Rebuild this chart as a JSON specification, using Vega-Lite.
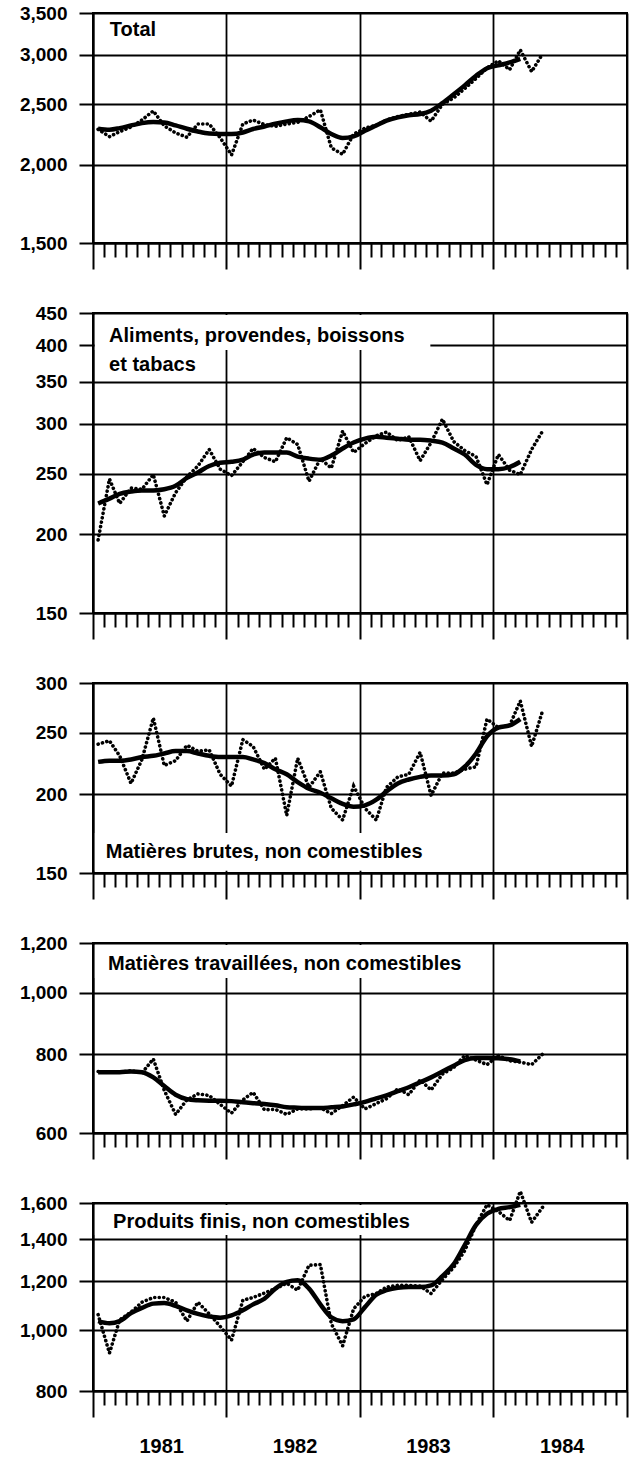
{
  "$schema": "https://vega.github.io/schema/vega-lite/v6.json",
  "padding": {"left": 18, "top": 3, "right": 2, "bottom": 2},
  "background": "white",
  "bounds": "flush",
  "spacing": 70,
  "config": {
    "view": {"stroke": "black", "strokeWidth": 2},
    "axis": {"labelFont": "Liberation Sans", "labelFontWeight": "bold", "labelColor": "black", "domainColor": "black", "tickColor": "black", "gridColor": "black"},
    "text": {"font": "Liberation Sans", "fontWeight": "bold", "fontSize": 20, "color": "black", "align": "left", "baseline": "top"}
  },
  "datasets": {
    "series": [
      {"date": "1981-01-15", "total": 2280, "total_t": 2285, "food": 196, "food_t": 224, "crude": 240, "crude_t": 225, "fab": 751, "fab_t": 749, "fin": 1060, "fin_t": 1035},
      {"date": "1981-02-15", "total": 2220, "total_t": 2277, "food": 245, "food_t": 228, "crude": 243, "crude_t": 226, "fab": 749, "fab_t": 749, "fin": 920, "fin_t": 1027},
      {"date": "1981-03-15", "total": 2260, "total_t": 2290, "food": 224, "food_t": 232, "crude": 230, "crude_t": 226, "fab": 749, "fab_t": 749, "fin": 1040, "fin_t": 1035},
      {"date": "1981-04-15", "total": 2300, "total_t": 2313, "food": 237, "food_t": 234, "crude": 208, "crude_t": 227, "fab": 753, "fab_t": 751, "fin": 1070, "fin_t": 1066},
      {"date": "1981-05-15", "total": 2360, "total_t": 2333, "food": 236, "food_t": 235, "crude": 227, "crude_t": 229, "fab": 747, "fab_t": 749, "fin": 1110, "fin_t": 1087},
      {"date": "1981-06-15", "total": 2440, "total_t": 2342, "food": 249, "food_t": 235, "crude": 264, "crude_t": 230, "fab": 786, "fab_t": 735, "fin": 1129, "fin_t": 1104},
      {"date": "1981-07-15", "total": 2310, "total_t": 2339, "food": 214, "food_t": 236, "crude": 222, "crude_t": 232, "fab": 701, "fab_t": 712, "fin": 1129, "fin_t": 1107},
      {"date": "1981-08-15", "total": 2250, "total_t": 2313, "food": 233, "food_t": 239, "crude": 226, "crude_t": 234, "fab": 642, "fab_t": 690, "fin": 1110, "fin_t": 1095},
      {"date": "1981-09-15", "total": 2215, "total_t": 2285, "food": 247, "food_t": 246, "crude": 239, "crude_t": 234, "fab": 677, "fab_t": 679, "fin": 1035, "fin_t": 1077},
      {"date": "1981-10-15", "total": 2325, "total_t": 2262, "food": 257, "food_t": 251, "crude": 234, "crude_t": 232, "fab": 692, "fab_t": 676, "fin": 1110, "fin_t": 1063},
      {"date": "1981-11-15", "total": 2325, "total_t": 2245, "food": 273, "food_t": 257, "crude": 235, "crude_t": 230, "fab": 688, "fab_t": 675, "fin": 1063, "fin_t": 1053},
      {"date": "1981-12-15", "total": 2210, "total_t": 2241, "food": 254, "food_t": 260, "crude": 215, "crude_t": 229, "fab": 666, "fab_t": 675, "fin": 1015, "fin_t": 1048},
      {"date": "1982-01-15", "total": 2075, "total_t": 2241, "food": 248, "food_t": 261, "crude": 206, "crude_t": 229, "fab": 645, "fab_t": 674, "fin": 965, "fin_t": 1057},
      {"date": "1982-02-15", "total": 2325, "total_t": 2254, "food": 261, "food_t": 263, "crude": 244, "crude_t": 229, "fab": 677, "fab_t": 671, "fin": 1118, "fin_t": 1077},
      {"date": "1982-03-15", "total": 2360, "total_t": 2283, "food": 274, "food_t": 268, "crude": 238, "crude_t": 227, "fab": 696, "fab_t": 669, "fin": 1129, "fin_t": 1101},
      {"date": "1982-04-15", "total": 2320, "total_t": 2304, "food": 265, "food_t": 270, "crude": 219, "crude_t": 224, "fab": 653, "fab_t": 667, "fin": 1148, "fin_t": 1124},
      {"date": "1982-05-15", "total": 2305, "total_t": 2328, "food": 261, "food_t": 270, "crude": 228, "crude_t": 219, "fab": 654, "fab_t": 664, "fin": 1167, "fin_t": 1167},
      {"date": "1982-06-15", "total": 2325, "total_t": 2348, "food": 285, "food_t": 270, "crude": 185, "crude_t": 215, "fab": 642, "fab_t": 659, "fin": 1190, "fin_t": 1196},
      {"date": "1982-07-15", "total": 2340, "total_t": 2359, "food": 278, "food_t": 266, "crude": 228, "crude_t": 209, "fab": 655, "fab_t": 658, "fin": 1160, "fin_t": 1203},
      {"date": "1982-08-15", "total": 2390, "total_t": 2348, "food": 243, "food_t": 264, "crude": 205, "crude_t": 204, "fab": 655, "fab_t": 657, "fin": 1272, "fin_t": 1167},
      {"date": "1982-09-15", "total": 2450, "total_t": 2297, "food": 264, "food_t": 263, "crude": 217, "crude_t": 201, "fab": 658, "fab_t": 657, "fin": 1275, "fin_t": 1101},
      {"date": "1982-10-15", "total": 2130, "total_t": 2241, "food": 255, "food_t": 267, "crude": 190, "crude_t": 197, "fab": 644, "fab_t": 659, "fin": 1025, "fin_t": 1050},
      {"date": "1982-11-15", "total": 2080, "total_t": 2208, "food": 292, "food_t": 274, "crude": 182, "crude_t": 193, "fab": 663, "fab_t": 661, "fin": 945, "fin_t": 1035},
      {"date": "1982-12-15", "total": 2240, "total_t": 2221, "food": 270, "food_t": 280, "crude": 206, "crude_t": 191, "fab": 684, "fab_t": 666, "fin": 1083, "fin_t": 1042},
      {"date": "1983-01-15", "total": 2290, "total_t": 2269, "food": 279, "food_t": 284, "crude": 190, "crude_t": 192, "fab": 655, "fab_t": 672, "fin": 1134, "fin_t": 1090},
      {"date": "1983-02-15", "total": 2315, "total_t": 2313, "food": 287, "food_t": 286, "crude": 182, "crude_t": 196, "fab": 668, "fab_t": 681, "fin": 1146, "fin_t": 1141},
      {"date": "1983-03-15", "total": 2360, "total_t": 2354, "food": 291, "food_t": 285, "crude": 205, "crude_t": 202, "fab": 680, "fab_t": 688, "fin": 1174, "fin_t": 1160},
      {"date": "1983-04-15", "total": 2390, "total_t": 2383, "food": 282, "food_t": 284, "crude": 213, "crude_t": 208, "fab": 705, "fab_t": 699, "fin": 1181, "fin_t": 1171},
      {"date": "1983-05-15", "total": 2410, "total_t": 2402, "food": 286, "food_t": 283, "crude": 215, "crude_t": 211, "fab": 690, "fab_t": 709, "fin": 1181, "fin_t": 1174},
      {"date": "1983-06-15", "total": 2430, "total_t": 2412, "food": 262, "food_t": 283, "crude": 233, "crude_t": 213, "fab": 728, "fab_t": 722, "fin": 1178, "fin_t": 1174},
      {"date": "1983-07-15", "total": 2350, "total_t": 2442, "food": 280, "food_t": 282, "crude": 199, "crude_t": 214, "fab": 702, "fab_t": 735, "fin": 1146, "fin_t": 1181},
      {"date": "1983-08-15", "total": 2500, "total_t": 2511, "food": 305, "food_t": 280, "crude": 216, "crude_t": 214, "fab": 744, "fab_t": 751, "fin": 1206, "fin_t": 1222},
      {"date": "1983-09-15", "total": 2560, "total_t": 2595, "food": 281, "food_t": 274, "crude": 216, "crude_t": 215, "fab": 762, "fab_t": 767, "fin": 1262, "fin_t": 1277},
      {"date": "1983-10-15", "total": 2650, "total_t": 2681, "food": 272, "food_t": 268, "crude": 219, "crude_t": 221, "fab": 796, "fab_t": 783, "fin": 1342, "fin_t": 1370},
      {"date": "1983-11-15", "total": 2750, "total_t": 2777, "food": 266, "food_t": 258, "crude": 221, "crude_t": 232, "fab": 783, "fab_t": 789, "fin": 1476, "fin_t": 1476},
      {"date": "1983-12-15", "total": 2860, "total_t": 2856, "food": 240, "food_t": 254, "crude": 263, "crude_t": 247, "fab": 770, "fab_t": 789, "fin": 1590, "fin_t": 1538},
      {"date": "1984-01-15", "total": 2935, "total_t": 2886, "food": 268, "food_t": 254, "crude": 255, "crude_t": 255, "fab": 796, "fab_t": 788, "fin": 1551, "fin_t": 1565},
      {"date": "1984-02-15", "total": 2840, "total_t": 2917, "food": 253, "food_t": 256, "crude": 257, "crude_t": 257, "fab": 781, "fab_t": 785, "fin": 1500, "fin_t": 1576},
      {"date": "1984-03-15", "total": 3055, "total_t": 2955, "food": 249, "food_t": 261, "crude": 281, "crude_t": 263, "fab": 777, "fab_t": 779, "fin": 1670, "fin_t": 1590},
      {"date": "1984-04-15", "total": 2820, "total_t": null, "food": 273, "food_t": null, "crude": 238, "crude_t": null, "fab": 770, "fab_t": null, "fin": 1490, "fin_t": null},
      {"date": "1984-05-15", "total": 3010, "total_t": null, "food": 292, "food_t": null, "crude": 271, "crude_t": null, "fab": 800, "fab_t": null, "fin": 1575, "fin_t": null}
    ]
  },
  "vconcat": [
    {
      "width": 534, "height": 230,
      "layer": [
        {
          "data": {"name": "series"},
          "mark": {"type": "line", "color": "black", "strokeWidth": 3.6, "strokeDash": [0.1, 4.4], "strokeCap": "round"},
          "encoding": {
            "x": {"field": "date", "type": "temporal", "scale": {"type": "utc", "domain": [{"year": 1981, "month": 1, "date": 1, "utc": true}, {"year": 1985, "month": 1, "date": 1, "utc": true}]},
              "axis": {"title": null, "tickCount": {"interval": "month", "step": 1}, "tickSize": {"condition": {"test": "utcmonth(datum.value) === 0", "value": 26}, "value": 14}, "tickWidth": 2, "grid": true, "gridWidth": 1.8, "gridOpacity": {"condition": {"test": "utcmonth(datum.value) === 0", "value": 1}, "value": 0}, "domainWidth": 2, "labels": false}},
            "y": {"field": "total", "type": "quantitative", "scale": {"type": "log", "domain": [1500, 3500], "nice": false, "zero": false},
              "axis": {"title": null, "values": [1500, 2000, 2500, 3000, 3500], "format": ",", "tickSize": 14, "tickWidth": 2, "labelPadding": 12, "labelFontSize": 19, "grid": true, "gridWidth": 1.8, "domainWidth": 2, "labelOverlap": false, "labelFlush": false}}
          }
        },
        {
          "data": {"name": "series"},
          "mark": {"type": "line", "color": "black", "strokeWidth": 4.5, "interpolate": "monotone"},
          "encoding": {
            "x": {"field": "date", "type": "temporal", "scale": {"type": "utc", "domain": [{"year": 1981, "month": 1, "date": 1, "utc": true}, {"year": 1985, "month": 1, "date": 1, "utc": true}]}},
            "y": {"field": "total_t", "type": "quantitative", "scale": {"type": "log", "domain": [1500, 3500], "nice": false, "zero": false}}
          }
        },
        {
          "data": {"values": [{}]},
          "mark": {"type": "text"},
          "encoding": {
            "x": {"datum": {"year": 1981, "month": 2, "date": 16, "utc": true}, "type": "temporal", "scale": {"type": "utc", "domain": [{"year": 1981, "month": 1, "date": 1, "utc": true}, {"year": 1985, "month": 1, "date": 1, "utc": true}]}},
            "y": {"datum": 3410, "type": "quantitative", "scale": {"type": "log", "domain": [1500, 3500], "nice": false, "zero": false}},
            "text": {"value": "Total"}
          }
        }
      ]
    },
    {
      "width": 534, "height": 300,
      "layer": [
        {
          "data": {"values": [{}]},
          "mark": {"type": "rect", "color": "white"},
          "encoding": {
            "x": {"datum": {"year": 1981, "month": 1, "date": 6, "utc": true}, "type": "temporal", "scale": {"type": "utc", "domain": [{"year": 1981, "month": 1, "date": 1, "utc": true}, {"year": 1985, "month": 1, "date": 1, "utc": true}]},
              "axis": {"title": null, "tickCount": {"interval": "month", "step": 1}, "tickSize": {"condition": {"test": "utcmonth(datum.value) === 0", "value": 26}, "value": 14}, "tickWidth": 2, "grid": true, "gridWidth": 1.8, "gridOpacity": {"condition": {"test": "utcmonth(datum.value) === 0", "value": 1}, "value": 0}, "domainWidth": 2, "labels": false}},
            "x2": {"datum": {"year": 1983, "month": 7, "date": 13, "utc": true}},
            "y": {"datum": 446.7, "type": "quantitative", "scale": {"type": "log", "domain": [150, 450], "nice": false, "zero": false},
              "axis": {"title": null, "values": [150, 200, 250, 300, 350, 400, 450], "format": ",", "tickSize": 14, "tickWidth": 2, "labelPadding": 12, "labelFontSize": 19, "grid": true, "gridWidth": 1.8, "domainWidth": 2, "labelOverlap": false, "labelFlush": false}},
            "y2": {"datum": 393}
          }
        },
        {
          "data": {"name": "series"},
          "mark": {"type": "line", "color": "black", "strokeWidth": 3.6, "strokeDash": [0.1, 4.4], "strokeCap": "round"},
          "encoding": {
            "x": {"field": "date", "type": "temporal", "scale": {"type": "utc", "domain": [{"year": 1981, "month": 1, "date": 1, "utc": true}, {"year": 1985, "month": 1, "date": 1, "utc": true}]}},
            "y": {"field": "food", "type": "quantitative", "scale": {"type": "log", "domain": [150, 450], "nice": false, "zero": false}}
          }
        },
        {
          "data": {"name": "series"},
          "mark": {"type": "line", "color": "black", "strokeWidth": 4.5, "interpolate": "monotone"},
          "encoding": {
            "x": {"field": "date", "type": "temporal", "scale": {"type": "utc", "domain": [{"year": 1981, "month": 1, "date": 1, "utc": true}, {"year": 1985, "month": 1, "date": 1, "utc": true}]}},
            "y": {"field": "food_t", "type": "quantitative", "scale": {"type": "log", "domain": [150, 450], "nice": false, "zero": false}}
          }
        },
        {
          "data": {"values": [{}]},
          "mark": {"type": "text", "lineHeight": 29},
          "encoding": {
            "x": {"datum": {"year": 1981, "month": 2, "date": 14, "utc": true}, "type": "temporal", "scale": {"type": "utc", "domain": [{"year": 1981, "month": 1, "date": 1, "utc": true}, {"year": 1985, "month": 1, "date": 1, "utc": true}]}},
            "y": {"datum": 429, "type": "quantitative", "scale": {"type": "log", "domain": [150, 450], "nice": false, "zero": false}},
            "text": {"value": ["Aliments, provendes, boissons", "et tabacs"]}
          }
        }
      ]
    },
    {
      "width": 534, "height": 190,
      "layer": [
        {
          "data": {"values": [{}]},
          "mark": {"type": "rect", "color": "white"},
          "encoding": {
            "x": {"datum": {"year": 1981, "month": 1, "date": 6, "utc": true}, "type": "temporal", "scale": {"type": "utc", "domain": [{"year": 1981, "month": 1, "date": 1, "utc": true}, {"year": 1985, "month": 1, "date": 1, "utc": true}]},
              "axis": {"title": null, "tickCount": {"interval": "month", "step": 1}, "tickSize": {"condition": {"test": "utcmonth(datum.value) === 0", "value": 26}, "value": 14}, "tickWidth": 2, "grid": true, "gridWidth": 1.8, "gridOpacity": {"condition": {"test": "utcmonth(datum.value) === 0", "value": 1}, "value": 0}, "domainWidth": 2, "labels": false}},
            "x2": {"datum": {"year": 1983, "month": 9, "date": 28, "utc": true}},
            "y": {"datum": 173.6, "type": "quantitative", "scale": {"type": "log", "domain": [150, 300], "nice": false, "zero": false},
              "axis": {"title": null, "values": [150, 200, 250, 300], "format": ",", "tickSize": 14, "tickWidth": 2, "labelPadding": 12, "labelFontSize": 19, "grid": true, "gridWidth": 1.8, "domainWidth": 2, "labelOverlap": false, "labelFlush": false}},
            "y2": {"datum": 151.2}
          }
        },
        {
          "data": {"name": "series"},
          "mark": {"type": "line", "color": "black", "strokeWidth": 3.6, "strokeDash": [0.1, 4.4], "strokeCap": "round"},
          "encoding": {
            "x": {"field": "date", "type": "temporal", "scale": {"type": "utc", "domain": [{"year": 1981, "month": 1, "date": 1, "utc": true}, {"year": 1985, "month": 1, "date": 1, "utc": true}]}},
            "y": {"field": "crude", "type": "quantitative", "scale": {"type": "log", "domain": [150, 300], "nice": false, "zero": false}}
          }
        },
        {
          "data": {"name": "series"},
          "mark": {"type": "line", "color": "black", "strokeWidth": 4.5, "interpolate": "monotone"},
          "encoding": {
            "x": {"field": "date", "type": "temporal", "scale": {"type": "utc", "domain": [{"year": 1981, "month": 1, "date": 1, "utc": true}, {"year": 1985, "month": 1, "date": 1, "utc": true}]}},
            "y": {"field": "crude_t", "type": "quantitative", "scale": {"type": "log", "domain": [150, 300], "nice": false, "zero": false}}
          }
        },
        {
          "data": {"values": [{}]},
          "mark": {"type": "text"},
          "encoding": {
            "x": {"datum": {"year": 1981, "month": 2, "date": 5, "utc": true}, "type": "temporal", "scale": {"type": "utc", "domain": [{"year": 1981, "month": 1, "date": 1, "utc": true}, {"year": 1985, "month": 1, "date": 1, "utc": true}]}},
            "y": {"datum": 167.9, "type": "quantitative", "scale": {"type": "log", "domain": [150, 300], "nice": false, "zero": false}},
            "text": {"value": "Matières brutes, non comestibles"}
          }
        }
      ]
    },
    {
      "width": 534, "height": 190,
      "layer": [
        {
          "data": {"values": [{}]},
          "mark": {"type": "rect", "color": "white"},
          "encoding": {
            "x": {"datum": {"year": 1981, "month": 1, "date": 6, "utc": true}, "type": "temporal", "scale": {"type": "utc", "domain": [{"year": 1981, "month": 1, "date": 1, "utc": true}, {"year": 1985, "month": 1, "date": 1, "utc": true}]},
              "axis": {"title": null, "tickCount": {"interval": "month", "step": 1}, "tickSize": {"condition": {"test": "utcmonth(datum.value) === 0", "value": 26}, "value": 14}, "tickWidth": 2, "grid": true, "gridWidth": 1.8, "gridOpacity": {"condition": {"test": "utcmonth(datum.value) === 0", "value": 1}, "value": 0}, "domainWidth": 2, "labels": false}},
            "x2": {"datum": {"year": 1983, "month": 12, "date": 8, "utc": true}},
            "y": {"datum": 1191, "type": "quantitative", "scale": {"type": "log", "domain": [600, 1200], "nice": false, "zero": false},
              "axis": {"title": null, "values": [600, 800, 1000, 1200], "format": ",", "tickSize": 14, "tickWidth": 2, "labelPadding": 12, "labelFontSize": 19, "grid": true, "gridWidth": 1.8, "domainWidth": 2, "labelOverlap": false, "labelFlush": false}},
            "y2": {"datum": 1056}
          }
        },
        {
          "data": {"name": "series"},
          "mark": {"type": "line", "color": "black", "strokeWidth": 3.6, "strokeDash": [0.1, 4.4], "strokeCap": "round"},
          "encoding": {
            "x": {"field": "date", "type": "temporal", "scale": {"type": "utc", "domain": [{"year": 1981, "month": 1, "date": 1, "utc": true}, {"year": 1985, "month": 1, "date": 1, "utc": true}]}},
            "y": {"field": "fab", "type": "quantitative", "scale": {"type": "log", "domain": [600, 1200], "nice": false, "zero": false}}
          }
        },
        {
          "data": {"name": "series"},
          "mark": {"type": "line", "color": "black", "strokeWidth": 4.5, "interpolate": "monotone"},
          "encoding": {
            "x": {"field": "date", "type": "temporal", "scale": {"type": "utc", "domain": [{"year": 1981, "month": 1, "date": 1, "utc": true}, {"year": 1985, "month": 1, "date": 1, "utc": true}]}},
            "y": {"field": "fab_t", "type": "quantitative", "scale": {"type": "log", "domain": [600, 1200], "nice": false, "zero": false}}
          }
        },
        {
          "data": {"values": [{}]},
          "mark": {"type": "text"},
          "encoding": {
            "x": {"datum": {"year": 1981, "month": 2, "date": 11, "utc": true}, "type": "temporal", "scale": {"type": "utc", "domain": [{"year": 1981, "month": 1, "date": 1, "utc": true}, {"year": 1985, "month": 1, "date": 1, "utc": true}]}},
            "y": {"datum": 1153, "type": "quantitative", "scale": {"type": "log", "domain": [600, 1200], "nice": false, "zero": false}},
            "text": {"value": "Matières travaillées, non comestibles"}
          }
        }
      ]
    },
    {
      "width": 534, "height": 188,
      "layer": [
        {
          "data": {"values": [{}]},
          "mark": {"type": "rect", "color": "white"},
          "encoding": {
            "x": {"datum": {"year": 1981, "month": 1, "date": 6, "utc": true}, "type": "temporal", "scale": {"type": "utc", "domain": [{"year": 1981, "month": 1, "date": 1, "utc": true}, {"year": 1985, "month": 1, "date": 1, "utc": true}]},
              "axis": {"title": null, "tickCount": {"interval": "month", "step": 1}, "tickSize": {"condition": {"test": "utcmonth(datum.value) === 0", "value": 26}, "value": 14}, "tickWidth": 2, "grid": true, "gridWidth": 1.8, "gridOpacity": {"condition": {"test": "utcmonth(datum.value) === 0", "value": 1}, "value": 0}, "domainWidth": 2, "labels": true, "labelExpr": "utcmonth(datum.value) === 6 ? '' + utcyear(datum.value) : ''", "labelFontSize": 20, "labelPadding": 31, "labelOffset": 2, "labelOverlap": false, "labelFlush": false, "labelBound": false}},
            "x2": {"datum": {"year": 1983, "month": 8, "date": 10, "utc": true}},
            "y": {"datum": 1588, "type": "quantitative", "scale": {"type": "log", "domain": [800, 1600], "nice": false, "zero": false},
              "axis": {"title": null, "values": [800, 1000, 1200, 1400, 1600], "format": ",", "tickSize": 14, "tickWidth": 2, "labelPadding": 12, "labelFontSize": 19, "grid": true, "gridWidth": 1.8, "domainWidth": 2, "labelOverlap": false, "labelFlush": false}},
            "y2": {"datum": 1422}
          }
        },
        {
          "data": {"name": "series"},
          "mark": {"type": "line", "color": "black", "strokeWidth": 3.6, "strokeDash": [0.1, 4.4], "strokeCap": "round"},
          "encoding": {
            "x": {"field": "date", "type": "temporal", "scale": {"type": "utc", "domain": [{"year": 1981, "month": 1, "date": 1, "utc": true}, {"year": 1985, "month": 1, "date": 1, "utc": true}]}},
            "y": {"field": "fin", "type": "quantitative", "scale": {"type": "log", "domain": [800, 1600], "nice": false, "zero": false}}
          }
        },
        {
          "data": {"name": "series"},
          "mark": {"type": "line", "color": "black", "strokeWidth": 4.5, "interpolate": "monotone"},
          "encoding": {
            "x": {"field": "date", "type": "temporal", "scale": {"type": "utc", "domain": [{"year": 1981, "month": 1, "date": 1, "utc": true}, {"year": 1985, "month": 1, "date": 1, "utc": true}]}},
            "y": {"field": "fin_t", "type": "quantitative", "scale": {"type": "log", "domain": [800, 1600], "nice": false, "zero": false}}
          }
        },
        {
          "data": {"values": [{}]},
          "mark": {"type": "text"},
          "encoding": {
            "x": {"datum": {"year": 1981, "month": 2, "date": 25, "utc": true}, "type": "temporal", "scale": {"type": "utc", "domain": [{"year": 1981, "month": 1, "date": 1, "utc": true}, {"year": 1985, "month": 1, "date": 1, "utc": true}]}},
            "y": {"datum": 1548, "type": "quantitative", "scale": {"type": "log", "domain": [800, 1600], "nice": false, "zero": false}},
            "text": {"value": "Produits finis, non comestibles"}
          }
        }
      ]
    }
  ]
}
